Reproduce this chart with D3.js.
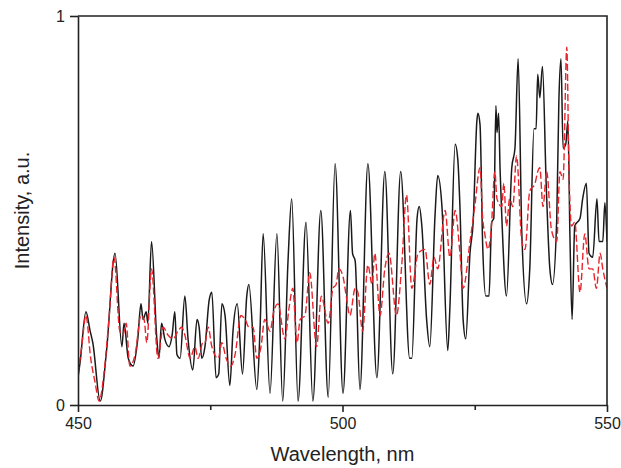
<!DOCTYPE html>
<html lang="en">
<head>
  <meta charset="UTF-8">
  <title>Spectrum</title>
  <style>
    html, body { margin: 0; background: #fff; }
    text { font-family: 'Liberation Sans', Arial, sans-serif; fill: #222; }
  </style>
  <script src="https://cdn.jsdelivr.net/npm/d3@7"></script>
</head>
<body>
  <script>
    const width = 621
    const height = 468
    const margin = { left: 78, right: 14, top: 16, bottom: 63 }

    // black solid series
    const blackWl = [450.0, 450.4, 451.5, 452.3, 452.8, 454.2, 455.4, 457.0, 458.3, 458.7, 459.5, 460.4, 461.3, 461.9, 462.3, 462.9, 463.2, 463.9, 464.9, 465.3, 465.8, 466.4, 467.2, 467.8, 468.3, 468.7, 469.3, 470.2, 470.8, 471.7, 472.5, 472.9, 473.4, 474.0, 474.8, 475.3, 476.1, 476.6, 477.2, 477.8, 478.7, 479.3, 480.1, 481.1, 481.9, 482.3, 483.8, 484.4, 485.0, 486.3, 487.6, 488.7, 489.7, 490.4, 491.6, 493.1, 494.4, 495.9, 497.3, 498.6, 500.1, 501.5, 501.9, 502.4, 503.3, 504.8, 506.5, 508.0, 509.5, 511.0, 512.7, 513.1, 514.1, 514.5, 515.0, 515.9, 516.5, 517.5, 518.0, 518.8, 519.9, 520.3, 521.3, 521.8, 522.2, 522.8, 523.3, 524.1, 524.7, 525.4, 525.6, 526.0, 526.5, 527.1, 527.7, 528.2, 528.6, 529.0, 529.2, 529.5, 529.8, 530.1, 531.0, 532.0, 532.6, 533.2, 533.9, 534.8, 535.4, 536.2, 536.6, 536.9, 537.3, 537.8, 538.5, 539.2, 539.7, 540.5, 540.9, 541.3, 541.7, 542.2, 542.6, 543.0, 543.4, 543.9, 544.9, 545.4, 546.1, 546.6, 547.3, 548.1, 548.5, 549.2, 549.6, 550.0]
    const blackI = [0.07, 0.11, 0.24, 0.19, 0.16, 0.01, 0.14, 0.39, 0.15, 0.21, 0.12, 0.10, 0.17, 0.26, 0.22, 0.24, 0.21, 0.42, 0.17, 0.12, 0.21, 0.17, 0.15, 0.18, 0.24, 0.13, 0.12, 0.28, 0.17, 0.09, 0.22, 0.20, 0.12, 0.15, 0.27, 0.29, 0.07, 0.08, 0.26, 0.23, 0.05, 0.19, 0.26, 0.08, 0.28, 0.31, 0.04, 0.19, 0.44, 0.03, 0.44, 0.01, 0.37, 0.53, 0.01, 0.47, 0.01, 0.50, 0.02, 0.62, 0.03, 0.50, 0.39, 0.37, 0.04, 0.62, 0.07, 0.60, 0.08, 0.60, 0.12, 0.12, 0.48, 0.51, 0.46, 0.22, 0.15, 0.49, 0.59, 0.51, 0.14, 0.25, 0.67, 0.63, 0.51, 0.22, 0.17, 0.39, 0.47, 0.73, 0.75, 0.72, 0.41, 0.28, 0.28, 0.47, 0.48, 0.77, 0.70, 0.75, 0.60, 0.49, 0.28, 0.61, 0.66, 0.89, 0.44, 0.26, 0.35, 0.71, 0.71, 0.85, 0.79, 0.87, 0.57, 0.35, 0.31, 0.48, 0.78, 0.89, 0.66, 0.67, 0.73, 0.43, 0.22, 0.46, 0.48, 0.53, 0.57, 0.39, 0.38, 0.53, 0.42, 0.42, 0.52, 0.42]

    // red dashed series
    const redWl = [450.0, 450.7, 451.5, 452.4, 453.2, 454.0, 454.9, 455.9, 456.8, 457.9, 458.5, 459.1, 459.8, 460.8, 461.9, 462.5, 463.0, 463.9, 465.1, 466.1, 467.0, 468.0, 468.9, 469.6, 470.2, 471.2, 472.1, 472.7, 473.6, 474.0, 474.6, 475.3, 476.5, 477.2, 478.0, 478.9, 479.7, 480.8, 481.6, 482.3, 483.1, 483.8, 484.6, 485.3, 486.3, 487.0, 487.8, 489.1, 489.9, 490.6, 491.4, 492.0, 492.9, 493.8, 495.1, 496.0, 497.3, 498.2, 498.8, 499.3, 500.1, 500.7, 501.4, 502.4, 502.9, 503.8, 504.8, 505.6, 506.1, 507.1, 508.0, 508.8, 510.2, 511.2, 512.1, 513.1, 514.3, 515.6, 516.5, 517.3, 518.0, 519.4, 520.3, 521.3, 522.2, 522.8, 524.1, 525.0, 526.0, 526.5, 526.9, 527.5, 528.1, 528.8, 529.2, 530.1, 530.5, 531.0, 531.6, 532.2, 532.9, 533.9, 534.5, 535.4, 536.4, 536.9, 537.3, 537.9, 538.6, 539.5, 540.5, 541.1, 541.7, 542.4, 542.8, 543.3, 543.9, 544.9, 545.8, 546.6, 547.3, 548.0, 548.7, 549.2, 550.0]
    const redI = [0.08, 0.15, 0.23, 0.12, 0.06, 0.01, 0.08, 0.23, 0.38, 0.19, 0.18, 0.21, 0.10, 0.13, 0.23, 0.22, 0.16, 0.35, 0.12, 0.20, 0.18, 0.17, 0.19, 0.20, 0.18, 0.12, 0.15, 0.12, 0.16, 0.16, 0.20, 0.15, 0.12, 0.16, 0.12, 0.10, 0.13, 0.23, 0.22, 0.20, 0.20, 0.12, 0.15, 0.22, 0.19, 0.24, 0.26, 0.17, 0.25, 0.30, 0.16, 0.22, 0.23, 0.34, 0.15, 0.28, 0.21, 0.30, 0.31, 0.35, 0.33, 0.28, 0.23, 0.30, 0.29, 0.19, 0.36, 0.31, 0.39, 0.23, 0.35, 0.39, 0.23, 0.36, 0.54, 0.30, 0.39, 0.40, 0.31, 0.38, 0.35, 0.50, 0.38, 0.50, 0.39, 0.30, 0.42, 0.51, 0.61, 0.48, 0.44, 0.40, 0.45, 0.60, 0.53, 0.51, 0.57, 0.46, 0.53, 0.51, 0.64, 0.42, 0.40, 0.55, 0.57, 0.60, 0.61, 0.51, 0.60, 0.45, 0.42, 0.60, 0.58, 0.92, 0.61, 0.46, 0.47, 0.29, 0.44, 0.35, 0.35, 0.30, 0.39, 0.35, 0.30]

    const majorTicks = [450, 500, 550]
    const minorTicks = [475, 525]
    const yTicks = [0, 1]

    const svg = d3.select('body').append('svg')
      .attr('width', width)
      .attr('height', height)

    const xScale = d3.scaleLinear()
      .domain([450, 550])
      .range([margin.left, width - margin.right])
    const yScale = d3.scaleLinear()
      .domain([0, 1])
      .range([height - margin.bottom, margin.top])

    svg.append('clipPath').attr('id', 'plot')
      .append('rect')
      .attr('x', margin.left).attr('y', margin.top)
      .attr('width', width - margin.left - margin.right)
      .attr('height', height - margin.top - margin.bottom)

    // smooth-ish spectrum lines
    const line = d3.line()
      .x(d => xScale(d[0]))
      .y(d => yScale(d[1]))
      .curve(d3.curveMonotoneX)

    svg.append('path')
      .datum(d3.zip(blackWl, blackI))
      .attr('clip-path', 'url(#plot)')
      .attr('fill', 'none')
      .attr('stroke', '#1a1a1a')
      .attr('stroke-width', 1.5)
      .attr('stroke-linejoin', 'round')
      .attr('d', line)

    svg.append('path')
      .datum(d3.zip(redWl, redI))
      .attr('clip-path', 'url(#plot)')
      .attr('fill', 'none')
      .attr('stroke', '#e8242c')
      .attr('stroke-width', 1.4)
      .attr('stroke-dasharray', '7,3')
      .attr('stroke-linejoin', 'round')
      .attr('d', line)

    // frame top + right
    const x0 = xScale(450), x1 = xScale(550), y0 = yScale(0), y1 = yScale(1)
    svg.append('path')
      .attr('d', `M${x0},${y1}H${x1}V${y0}`)
      .attr('fill', 'none')
      .attr('stroke', '#222')
      .attr('stroke-width', 1.6)

    // axes
    svg.append('g')
      .attr('transform', `translate(0, ${y0})`)
      .call(d3.axisBottom(xScale).tickValues(majorTicks).tickSize(7).tickPadding(6).tickSizeOuter(0))
    svg.append('g')
      .attr('transform', `translate(0, ${y0})`)
      .call(d3.axisBottom(xScale).tickValues(minorTicks).tickSize(5).tickFormat('').tickSizeOuter(0))
      .select('.domain').remove()

    svg.append('g')
      .attr('transform', `translate(${x0}, 0)`)
      .call(d3.axisLeft(yScale).tickValues(yTicks).tickFormat(d3.format('d')).tickSize(8).tickPadding(5).tickSizeOuter(0))

    svg.selectAll('.domain, .tick line')
      .attr('stroke', '#222')
      .attr('stroke-width', 1.6)
    svg.selectAll('.tick text')
      .attr('font-size', 16)
      .attr('font-family', "'Liberation Sans', Arial, sans-serif")
      .attr('fill', '#222')

    // axis titles
    svg.append('text')
      .attr('x', (x0 + x1) / 2)
      .attr('y', 461)
      .attr('text-anchor', 'middle')
      .attr('font-size', 20)
      .text('Wavelength, nm')

    svg.append('text')
      .attr('transform', `translate(29, ${(y0 + y1) / 2}) rotate(-90)`)
      .attr('text-anchor', 'middle')
      .attr('font-size', 20)
      .text('Intensity, a.u.')
  </script>
</body>
</html>
